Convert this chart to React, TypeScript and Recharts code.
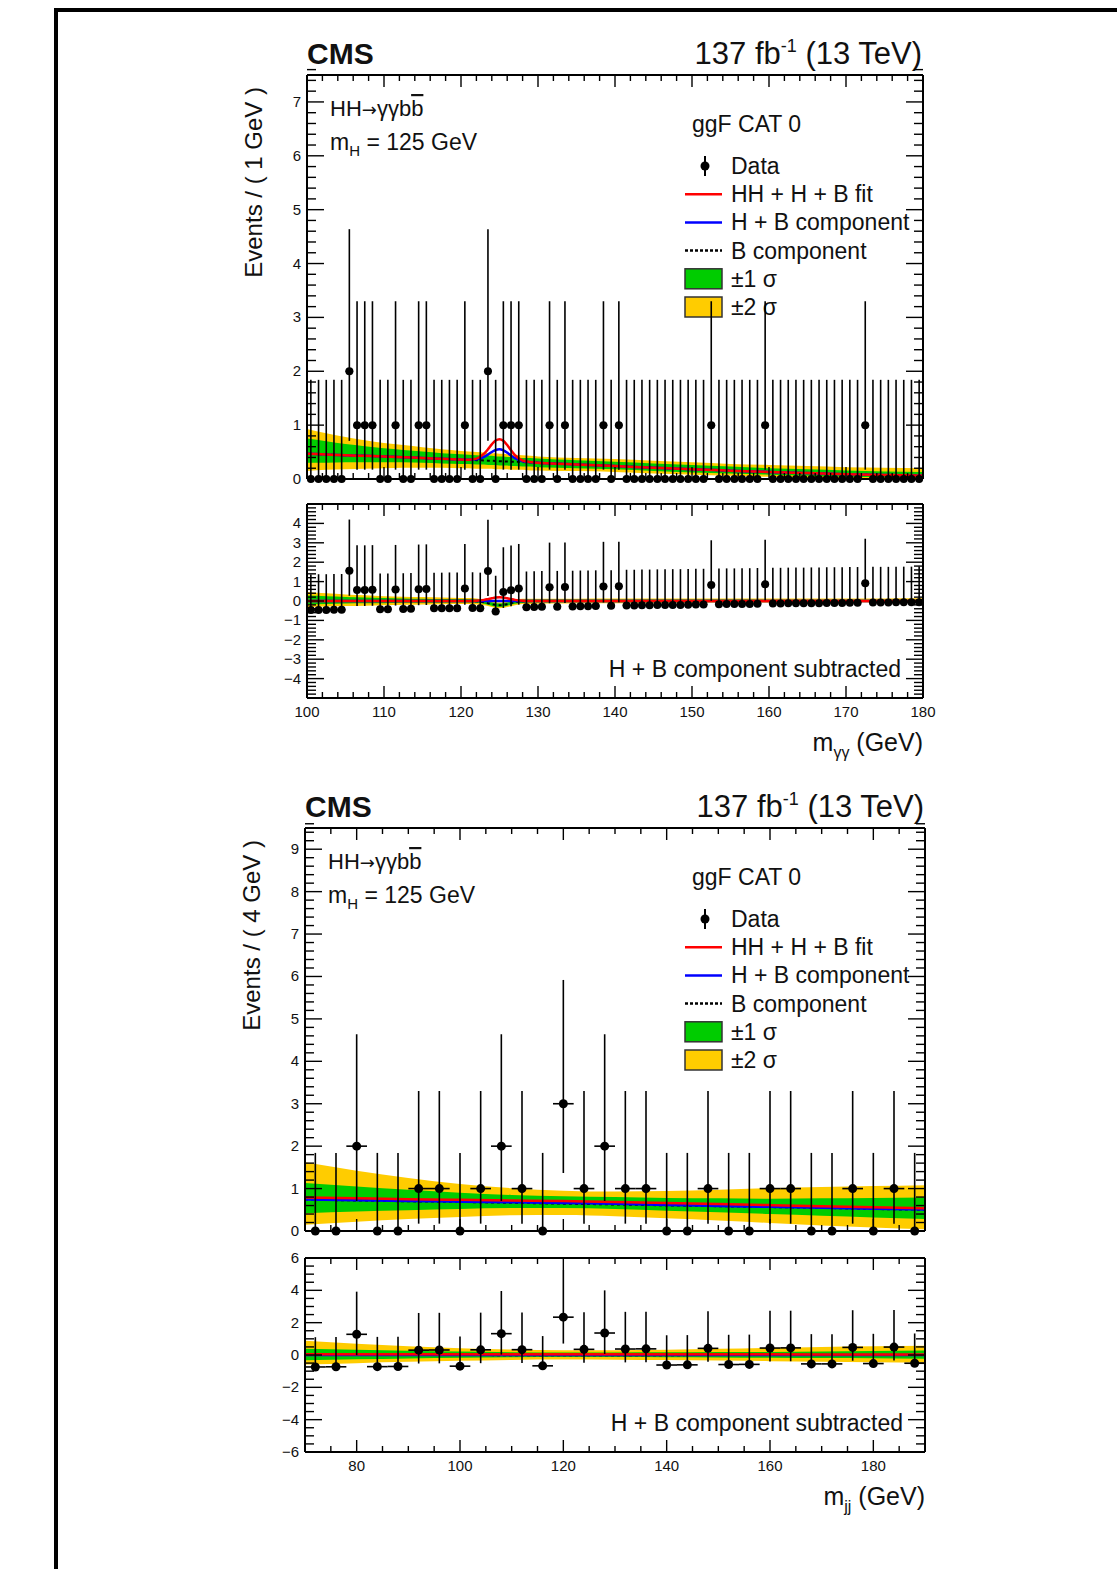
import React from "react";
import { Area, ComposedChart, ErrorBar, Line, Scatter, XAxis, YAxis } from "recharts";

const FONT = '"Liberation Sans", Arial, Helvetica, sans-serif';
const INK = "#111";
const RED = "#ff0000";
const BLUE = "#0000ff";
const GREEN = "#00cc00";
const YELLOW = "#ffcc00";

// Garwood 68% intervals for n = 0..3 observed events
const POISSON_LO = [0, 0.173, 0.708, 1.367];
const POISSON_HI = [1.841, 3.3, 4.638, 5.918];

// ---- m(gamma gamma), 1 GeV bins between 100 and 180 GeV
const GG_LO = 100;
const GG_BIN = 1;
const GG_COUNTS = [
  0, 0, 0, 0, 0, 2, 1, 1, 1, 0,
  0, 1, 0, 0, 1, 1, 0, 0, 0, 0,
  1, 0, 0, 2, 0, 1, 1, 1, 0, 0,
  0, 1, 0, 1, 0, 0, 0, 0, 1, 0,
  1, 0, 0, 0, 0, 0, 0, 0, 0, 0,
  0, 0, 1, 0, 0, 0, 0, 0, 0, 1,
  0, 0, 0, 0, 0, 0, 0, 0, 0, 0,
  0, 0, 1, 0, 0, 0, 0, 0, 0, 0,
];
// data minus the H + B component, per bin
const GG_RESID = [
  -0.47, -0.46, -0.46, -0.45, -0.45, 1.56, 0.57, 0.57, 0.58, -0.42,
  -0.42, 0.59, -0.41, -0.4, 0.61, 0.62, -0.38, -0.38, -0.37, -0.37,
  0.64, -0.36, -0.38, 1.55, -0.54, 0.47, 0.56, 0.64, -0.32, -0.31,
  -0.3, 0.71, -0.29, 0.72, -0.28, -0.27, -0.27, -0.26, 0.75, -0.25,
  0.76, -0.23, -0.23, -0.22, -0.22, -0.21, -0.21, -0.2, -0.2, -0.19,
  -0.18, -0.18, 0.83, -0.17, -0.16, -0.16, -0.15, -0.15, -0.14, 0.86,
  -0.13, -0.13, -0.12, -0.12, -0.12, -0.11, -0.11, -0.1, -0.1, -0.1,
  -0.09, -0.09, 0.91, -0.08, -0.08, -0.08, -0.07, -0.07, -0.07, -0.06,
];
const GG_FIT_X = [100, 102.5, 105, 107.5, 110, 112.5, 115, 117.5, 120, 121, 122, 123, 123.5, 124, 124.5, 125, 125.5, 126, 126.5, 127, 128, 129, 130, 132.5, 135, 140, 145, 150, 155, 160, 165, 170, 175, 180];
const GG_B = [0.47, 0.455, 0.44, 0.43, 0.42, 0.405, 0.39, 0.375, 0.36, 0.355, 0.35, 0.345, 0.34, 0.338, 0.335, 0.33, 0.328, 0.325, 0.322, 0.32, 0.315, 0.31, 0.3, 0.285, 0.27, 0.24, 0.21, 0.18, 0.155, 0.13, 0.11, 0.09, 0.075, 0.06];
const GG_HB = [0.47, 0.455, 0.44, 0.43, 0.42, 0.405, 0.39, 0.375, 0.36, 0.357, 0.365, 0.412, 0.453, 0.502, 0.539, 0.55, 0.532, 0.489, 0.435, 0.387, 0.33, 0.312, 0.3, 0.285, 0.27, 0.24, 0.21, 0.18, 0.155, 0.13, 0.11, 0.09, 0.075, 0.06];
const GG_FIT = [0.47, 0.455, 0.44, 0.43, 0.42, 0.405, 0.39, 0.375, 0.36, 0.359, 0.378, 0.47, 0.551, 0.643, 0.716, 0.74, 0.709, 0.63, 0.533, 0.445, 0.343, 0.314, 0.3, 0.285, 0.27, 0.24, 0.21, 0.18, 0.155, 0.13, 0.11, 0.09, 0.075, 0.06];
const GG_S2_LO = [0.15, 0.17, 0.18, 0.19, 0.2, 0.21, 0.21, 0.21, 0.2, 0.2, 0.19, 0.19, 0.19, 0.19, 0.18, 0.18, 0.18, 0.18, 0.17, 0.17, 0.17, 0.16, 0.16, 0.15, 0.15, 0.13, 0.1, 0.08, 0.06, 0.04, 0.02, 0.01, 0, 0];
const GG_S1_LO = [0.3, 0.3, 0.31, 0.31, 0.31, 0.31, 0.3, 0.29, 0.28, 0.28, 0.27, 0.27, 0.26, 0.26, 0.26, 0.25, 0.25, 0.25, 0.24, 0.24, 0.23, 0.23, 0.22, 0.21, 0.2, 0.18, 0.15, 0.12, 0.1, 0.08, 0.06, 0.04, 0.03, 0.02];
const GG_S1_HI = [0.75, 0.7, 0.65, 0.61, 0.57, 0.54, 0.51, 0.48, 0.46, 0.45, 0.44, 0.43, 0.43, 0.43, 0.42, 0.42, 0.42, 0.41, 0.41, 0.4, 0.39, 0.39, 0.38, 0.36, 0.35, 0.32, 0.29, 0.26, 0.23, 0.2, 0.18, 0.16, 0.14, 0.13];
const GG_S2_HI = [0.93, 0.85, 0.78, 0.72, 0.67, 0.63, 0.59, 0.55, 0.52, 0.51, 0.5, 0.49, 0.48, 0.48, 0.48, 0.47, 0.47, 0.46, 0.46, 0.45, 0.44, 0.43, 0.42, 0.4, 0.39, 0.37, 0.34, 0.31, 0.28, 0.26, 0.24, 0.22, 0.21, 0.2];

// ---- m(jj), 4 GeV bins between 70 and 190 GeV
const JJ_LO = 70;
const JJ_BIN = 4;
const JJ_COUNTS = [0, 0, 2, 0, 0, 1, 1, 0, 1, 2, 1, 0, 3, 1, 2, 1, 1, 0, 0, 1, 0, 0, 1, 1, 0, 0, 1, 0, 1, 0];
const JJ_RESID = [
  -0.74, -0.73, 1.28, -0.72, -0.71, 0.3, 0.31, -0.69, 0.32, 1.32,
  0.33, -0.67, 2.34, 0.35, 1.36, 0.37, 0.38, -0.62, -0.61, 0.41,
  -0.59, -0.58, 0.43, 0.44, -0.55, -0.55, 0.47, -0.53, 0.49, -0.51,
];
const JJ_FIT_X = [70, 80, 90, 100, 110, 120, 130, 140, 150, 160, 170, 180, 190];
const JJ_B = [0.74, 0.72, 0.7, 0.685, 0.665, 0.645, 0.625, 0.605, 0.585, 0.565, 0.545, 0.52, 0.5];
const JJ_HB = [0.745, 0.725, 0.705, 0.69, 0.675, 0.66, 0.64, 0.615, 0.59, 0.57, 0.55, 0.525, 0.505];
const JJ_FIT = [0.79, 0.77, 0.75, 0.735, 0.72, 0.705, 0.685, 0.66, 0.635, 0.61, 0.585, 0.56, 0.535];
const JJ_S2_LO = [0.15, 0.22, 0.28, 0.33, 0.37, 0.38, 0.35, 0.3, 0.25, 0.19, 0.13, 0.08, 0.04];
const JJ_S1_LO = [0.42, 0.46, 0.49, 0.52, 0.54, 0.54, 0.52, 0.48, 0.44, 0.4, 0.36, 0.32, 0.28];
const JJ_S1_HI = [1.13, 1.05, 0.97, 0.9, 0.85, 0.82, 0.8, 0.78, 0.77, 0.76, 0.77, 0.78, 0.79];
const JJ_S2_HI = [1.62, 1.42, 1.25, 1.11, 1.01, 0.95, 0.93, 0.94, 0.97, 1.01, 1.04, 1.06, 1.08];

const LEGEND = ["Data", "HH + H + B fit", "H + B component", "B component", "\u00b11 \u03c3", "\u00b12 \u03c3"];

type Box = { x: number; y: number; w: number; h: number };
type Side = "bottom" | "top" | "left" | "right";

function steps(lo: number, hi: number, step: number) {
  const out: number[] = [];
  const n = Math.round((hi - lo) / step);
  for (let i = 0; i <= n; i++) out.push(+(lo + i * step).toFixed(4));
  return out;
}

function onStep(v: number, step: number) {
  const r = v / step;
  return Math.abs(r - Math.round(r)) < 1e-6;
}

const fmt = (v: number) => (v < 0 ? "\u2212" + Math.abs(v) : String(v));

function buildFit(xs: number[], b: number[], hb: number[], fit: number[], s1lo: number[], s1hi: number[], s2lo: number[], s2hi: number[], subtract: boolean) {
  return xs.map((x, i) => {
    const ref = subtract ? hb[i] : 0;
    return {
      x,
      b: b[i] - ref,
      hb: hb[i] - ref,
      fit: fit[i] - ref,
      band1: [s1lo[i] - ref, s1hi[i] - ref],
      band2: [s2lo[i] - ref, s2hi[i] - ref],
    };
  });
}

function buildPoints(lo: number, width: number, counts: number[], values?: number[]) {
  return counts.map((n, i) => ({
    x: lo + width * (i + 0.5),
    y: values ? values[i] : n,
    ey: [n - POISSON_LO[n], POISSON_HI[n] - n],
    ex: width / 2,
  }));
}

// ROOT-style inward ticks on every side of the frame
function frameTick(side: Side, major: number, label?: (v: number) => boolean) {
  return (props: any) => {
    const { x, y, payload } = props;
    const v = payload.value as number;
    const isMajor = onStep(v, major);
    const vertical = side === "left" || side === "right";
    const len = vertical ? (isMajor ? 17 : 9) : isMajor ? 12 : 6;
    let x2 = x;
    let y2 = y;
    if (side === "bottom") y2 = y - len;
    if (side === "top") y2 = y + len;
    if (side === "left") x2 = x + len;
    if (side === "right") x2 = x - len;
    const text = label && isMajor && label(v);
    return (
      <g>
        <line x1={x} y1={y} x2={x2} y2={y2} stroke="#000" strokeWidth={1.4} />
        {text && side === "left" && (
          <text x={x - 6} y={y + 5} textAnchor="end" fontSize={15} fontFamily={FONT} fill={INK}>
            {fmt(v)}
          </text>
        )}
        {text && side === "bottom" && (
          <text x={x} y={y + 19} textAnchor="middle" fontSize={15} fontFamily={FONT} fill={INK}>
            {fmt(v)}
          </text>
        )}
      </g>
    );
  };
}

interface PanelProps {
  box: Box;
  xDomain: [number, number];
  xStep: number;
  xMajor: number;
  xLabel?: (v: number) => boolean;
  yDomain: [number, number];
  yStep: number;
  yMajor: number;
  yLabel?: (v: number) => boolean;
  fit: any[];
  points: any[];
  dotR: number;
}

const AX_L = 50;
const AX_B = 30;
const PAD = 20;
// top and right axes only carry ticks; a zero-size axis is not drawn at all
const AX_THIN = 1;

function Panel({ box, xDomain, xStep, xMajor, xLabel, yDomain, yStep, yMajor, yLabel, fit, points, dotR }: PanelProps) {
  const xTicks = steps(xDomain[0], xDomain[1], xStep);
  const yTicks = steps(yDomain[0], yDomain[1], yStep);
  const frame = { stroke: "#000", strokeWidth: 2 };
  const common = { tickSize: 0, tickMargin: 0, tickLine: false, interval: 0 as const, axisLine: frame };
  return (
    <div style={{ position: "absolute", left: box.x - AX_L, top: box.y - PAD }}>
      <ComposedChart
        width={AX_L + box.w + PAD}
        height={PAD + box.h + AX_B}
        data={fit}
        margin={{ top: PAD - AX_THIN, right: PAD - AX_THIN, bottom: 0, left: 0 }}
      >
        <XAxis xAxisId="b" dataKey="x" type="number" domain={xDomain} ticks={xTicks} height={AX_B} tick={frameTick("bottom", xMajor, xLabel)} {...common} />
        <XAxis xAxisId="t" dataKey="x" orientation="top" type="number" domain={xDomain} ticks={xTicks} height={AX_THIN} tick={frameTick("top", xMajor)} {...common} />
        <YAxis yAxisId="l" type="number" domain={yDomain} ticks={yTicks} width={AX_L} tick={frameTick("left", yMajor, yLabel)} {...common} />
        <YAxis yAxisId="r" orientation="right" type="number" domain={yDomain} ticks={yTicks} width={AX_THIN} tick={frameTick("right", yMajor)} {...common} />
        <Area xAxisId="b" yAxisId="l" dataKey="band2" type="monotone" stroke="none" fill={YELLOW} fillOpacity={1} isAnimationActive={false} />
        <Area xAxisId="b" yAxisId="l" dataKey="band1" type="monotone" stroke="none" fill={GREEN} fillOpacity={1} isAnimationActive={false} />
        <Line xAxisId="b" yAxisId="l" dataKey="b" type="monotone" stroke="#000" strokeWidth={2} strokeDasharray="3 3" dot={false} isAnimationActive={false} />
        <Line xAxisId="b" yAxisId="l" dataKey="hb" type="monotone" stroke={BLUE} strokeWidth={2.5} dot={false} isAnimationActive={false} />
        <Line xAxisId="b" yAxisId="l" dataKey="fit" type="monotone" stroke={RED} strokeWidth={2.5} dot={false} isAnimationActive={false} />
        {/* keeps the top / right frame axes bound to a series so their ticks get a scale */}
        <Line xAxisId="t" yAxisId="r" dataKey="fit" stroke="none" dot={false} activeDot={false} isAnimationActive={false} />
        <Scatter
          xAxisId="b"
          yAxisId="l"
          data={points}
          dataKey="y"
          isAnimationActive={false}
          shape={(p: any) => <circle cx={p.cx} cy={p.cy} r={dotR} fill="#000" />}
        >
          <ErrorBar dataKey="ey" direction="y" width={0} stroke="#000" strokeWidth={1.6} />
          <ErrorBar dataKey="ex" direction="x" width={0} stroke="#000" strokeWidth={1.6} />
        </Scatter>
      </ComposedChart>
    </div>
  );
}

function Labels({ main, ratio, yTitle, xSub, titleX }: { main: Box; ratio: Box; yTitle: string; xSub: string; titleX: number }) {
  const right = main.x + main.w;
  const legendY = (k: number) => main.y + 91 + 28.2 * k;
  const mx0 = 685;
  const mx1 = 722;
  return (
    <g fontFamily={FONT} fill={INK}>
      <text x={main.x} y={main.y - 11} fontSize={30} fontWeight="bold">CMS</text>
      <text x={right - 1} y={main.y - 11} fontSize={31} textAnchor="end">
        137 fb<tspan fontSize={18} dy={-12}>-1</tspan>
        <tspan dy={12}> (13 TeV)</tspan>
      </text>
      <text x={titleX} y={main.y + 12} fontSize={24} textAnchor="end" transform={`rotate(-90 ${titleX} ${main.y + 12})`}>
        {yTitle}
      </text>
      <text x={main.x + 23} y={main.y + 41} fontSize={22}>
        HH<tspan fontFamily='"DejaVu Sans", sans-serif' fontSize={18}>{"\u2192"}</tspan>
        {"\u03b3\u03b3"}b<tspan style={{ textDecoration: "overline" }}>b</tspan>
      </text>
      <text x={main.x + 23} y={main.y + 75} fontSize={23}>
        m<tspan fontSize={15} dy={6}>H</tspan>
        <tspan dy={-6}> = 125 GeV</tspan>
      </text>
      <text x={692} y={main.y + 57} fontSize={23}>ggF CAT 0</text>

      <line x1={705} y1={legendY(0) - 10} x2={705} y2={legendY(0) + 10} stroke="#000" strokeWidth={2} />
      <circle cx={705} cy={legendY(0)} r={4.5} fill="#000" />
      <line x1={mx0} y1={legendY(1)} x2={mx1} y2={legendY(1)} stroke={RED} strokeWidth={2.5} />
      <line x1={mx0} y1={legendY(2)} x2={mx1} y2={legendY(2)} stroke={BLUE} strokeWidth={2.5} />
      <line x1={mx0} y1={legendY(3)} x2={mx1} y2={legendY(3)} stroke="#000" strokeWidth={2.5} strokeDasharray="3 2" />
      <rect x={mx0} y={legendY(4) - 10} width={mx1 - mx0} height={20} fill={GREEN} stroke="#333" strokeWidth={1.5} />
      <rect x={mx0} y={legendY(5) - 10} width={mx1 - mx0} height={20} fill={YELLOW} stroke="#333" strokeWidth={1.5} />
      {LEGEND.map((t, k) => (
        <text key={t} x={731} y={legendY(k) + 8} fontSize={23}>{t}</text>
      ))}

      <text x={ratio.x + ratio.w - 22} y={ratio.y + ratio.h - 21} fontSize={23} textAnchor="end">
        H + B component subtracted
      </text>
      <text x={ratio.x + ratio.w} y={ratio.y + ratio.h + 53} fontSize={25} textAnchor="end">
        m<tspan fontSize={16} dy={7}>{xSub}</tspan>
        <tspan dy={-7}> (GeV)</tspan>
      </text>
    </g>
  );
}

const GG_MAIN: Box = { x: 307, y: 75, w: 616, h: 404 };
const GG_RATIO: Box = { x: 307, y: 504, w: 616, h: 194 };
const JJ_MAIN: Box = { x: 305, y: 828, w: 620, h: 403 };
const JJ_RATIO: Box = { x: 305, y: 1258, w: 620, h: 194 };

export default function App() {
  const ggFit = buildFit(GG_FIT_X, GG_B, GG_HB, GG_FIT, GG_S1_LO, GG_S1_HI, GG_S2_LO, GG_S2_HI, false);
  const ggFitSub = buildFit(GG_FIT_X, GG_B, GG_HB, GG_FIT, GG_S1_LO, GG_S1_HI, GG_S2_LO, GG_S2_HI, true);
  const ggPts = buildPoints(GG_LO, GG_BIN, GG_COUNTS);
  const ggPtsSub = buildPoints(GG_LO, GG_BIN, GG_COUNTS, GG_RESID);

  const jjFit = buildFit(JJ_FIT_X, JJ_B, JJ_HB, JJ_FIT, JJ_S1_LO, JJ_S1_HI, JJ_S2_LO, JJ_S2_HI, false);
  const jjFitSub = buildFit(JJ_FIT_X, JJ_B, JJ_HB, JJ_FIT, JJ_S1_LO, JJ_S1_HI, JJ_S2_LO, JJ_S2_HI, true);
  const jjPts = buildPoints(JJ_LO, JJ_BIN, JJ_COUNTS);
  const jjPtsSub = buildPoints(JJ_LO, JJ_BIN, JJ_COUNTS, JJ_RESID);

  return (
    <div style={{ position: "absolute", left: 0, top: 0, width: 1117, height: 1569, background: "#fff", overflow: "hidden" }}>
      <svg width={1117} height={1569} style={{ position: "absolute", left: 0, top: 0 }}>
        <Labels main={GG_MAIN} ratio={GG_RATIO} yTitle="Events / ( 1 GeV )" xSub={"\u03b3\u03b3"} titleX={262} />
        <Labels main={JJ_MAIN} ratio={JJ_RATIO} yTitle="Events / ( 4 GeV )" xSub="jj" titleX={260} />
      </svg>
      <div style={{ position: "absolute", left: 54, top: 8, width: 4, height: 1561, background: "#000" }} />
      <div style={{ position: "absolute", left: 54, top: 8, width: 1063, height: 4, background: "#000" }} />

      <Panel box={GG_MAIN} xDomain={[100, 180]} xStep={2} xMajor={10} yDomain={[0, 7.5]} yStep={0.2} yMajor={1}
        yLabel={() => true} fit={ggFit} points={ggPts} dotR={4} />
      <Panel box={GG_RATIO} xDomain={[100, 180]} xStep={2} xMajor={10} xLabel={() => true} yDomain={[-5, 5]} yStep={0.2} yMajor={1}
        yLabel={(v) => Math.abs(v) <= 4} fit={ggFitSub} points={ggPtsSub} dotR={4} />
      <Panel box={JJ_MAIN} xDomain={[70, 190]} xStep={5} xMajor={20} yDomain={[0, 9.5]} yStep={0.2} yMajor={1}
        yLabel={() => true} fit={jjFit} points={jjPts} dotR={4.5} />
      <Panel box={JJ_RATIO} xDomain={[70, 190]} xStep={5} xMajor={20} xLabel={(v) => v >= 80 && v <= 180} yDomain={[-6, 6]} yStep={0.5} yMajor={2}
        yLabel={() => true} fit={jjFitSub} points={jjPtsSub} dotR={4.5} />
    </div>
  );
}
